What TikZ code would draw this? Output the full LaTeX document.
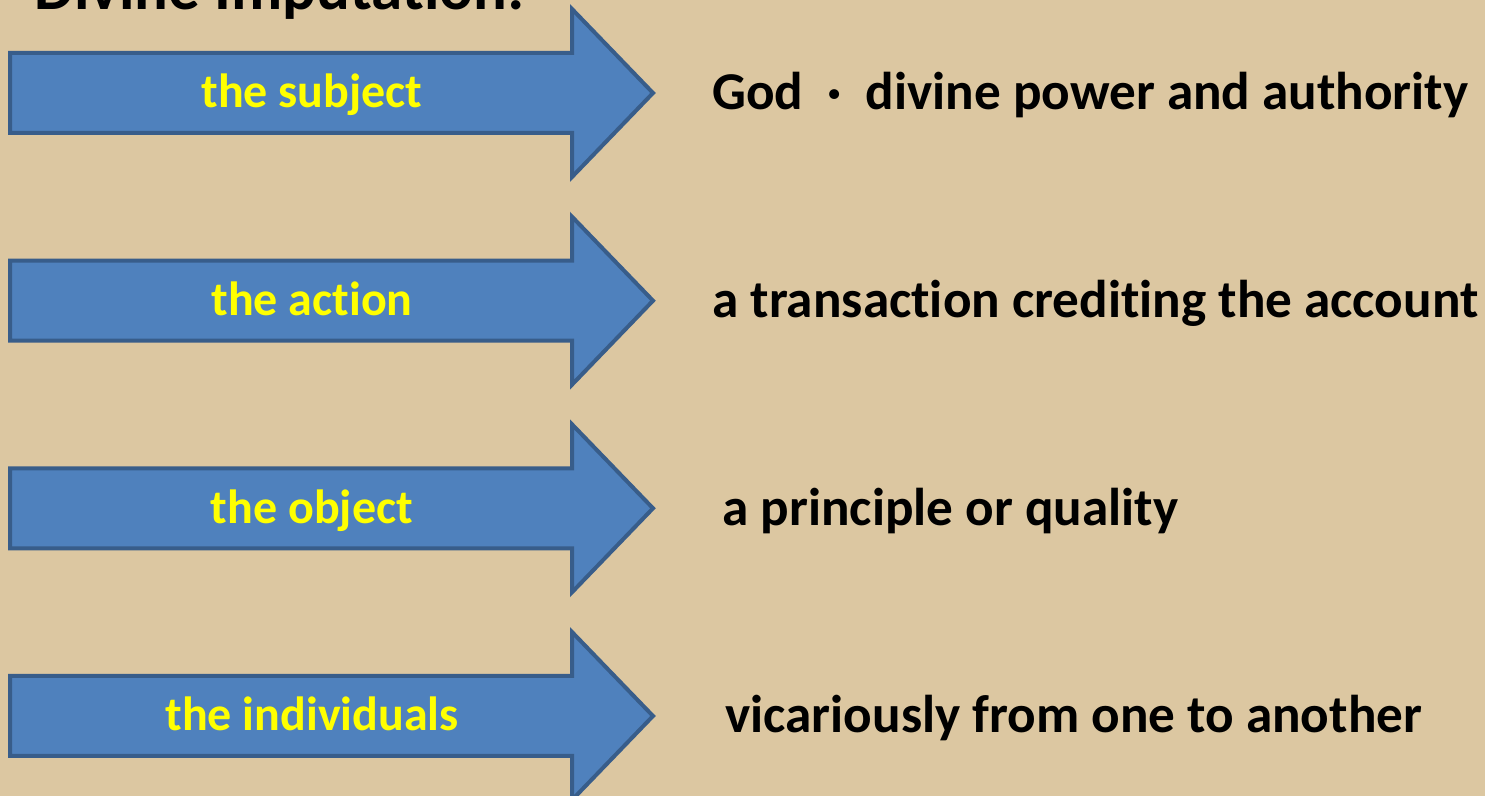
\documentclass[tikz,border=0pt]{standalone}
\usepackage{fontspec}
\setmainfont{Carlito}[Ligatures=NoCommon]
\usetikzlibrary{positioning}
\definecolor{parchment}{RGB}{220,199,161}
\definecolor{arrowblue}{RGB}{79,129,189}
\definecolor{arrowedge}{RGB}{56,93,138}
\definecolor{labelyellow}{RGB}{255,255,0}

\begin{document}
\begin{tikzpicture}[x=0.5pt, y=-0.5pt,
    bigarrow/.style={fill=arrowblue, draw=arrowedge, line width=2pt, line join=miter},
    termlabel/.style={font=\fontsize{24}{28}\selectfont\bfseries, text=labelyellow, anchor=base},
    meaning/.style={font=\fontsize{26.6}{32}\selectfont\bfseries, anchor=base west}]
    % Background and frame
    \fill[parchment] (0,0) rectangle (1485,796);
    \clip (0,0) rectangle (1485,796);
    \useasboundingbox (0,0) rectangle (1485,796);

    % Title, cut at the top edge
    \node[font=\fontsize{31.5}{36}\selectfont\bfseries, anchor=base west, inner sep=0pt] (title) at (34,10) {Divine Imputation:};

    % Arrows with their meanings
    \foreach \c/\term/\xs/\desc [count=\i] in {
        93/the subject/712/{God ~·~ divine power and authority},
        300.7/the action/712/a transaction crediting the account,
        508.3/the object/722/a principle or quality,
        716/the individuals/725/vicariously from one to another} {
        \draw[bigarrow] (10,\c-40) -- (572,\c-40) -- (572,\c-84) -- (653,\c)
            -- (572,\c+84) -- (572,\c+40) -- (10,\c+40) -- cycle;
        \node[termlabel] (term\i) at (312,\c+15) {\term};
        \node[meaning, inner sep=0pt] (desc\i) at (\xs,\c+17) {\desc};
    }
\end{tikzpicture}
\end{document}
